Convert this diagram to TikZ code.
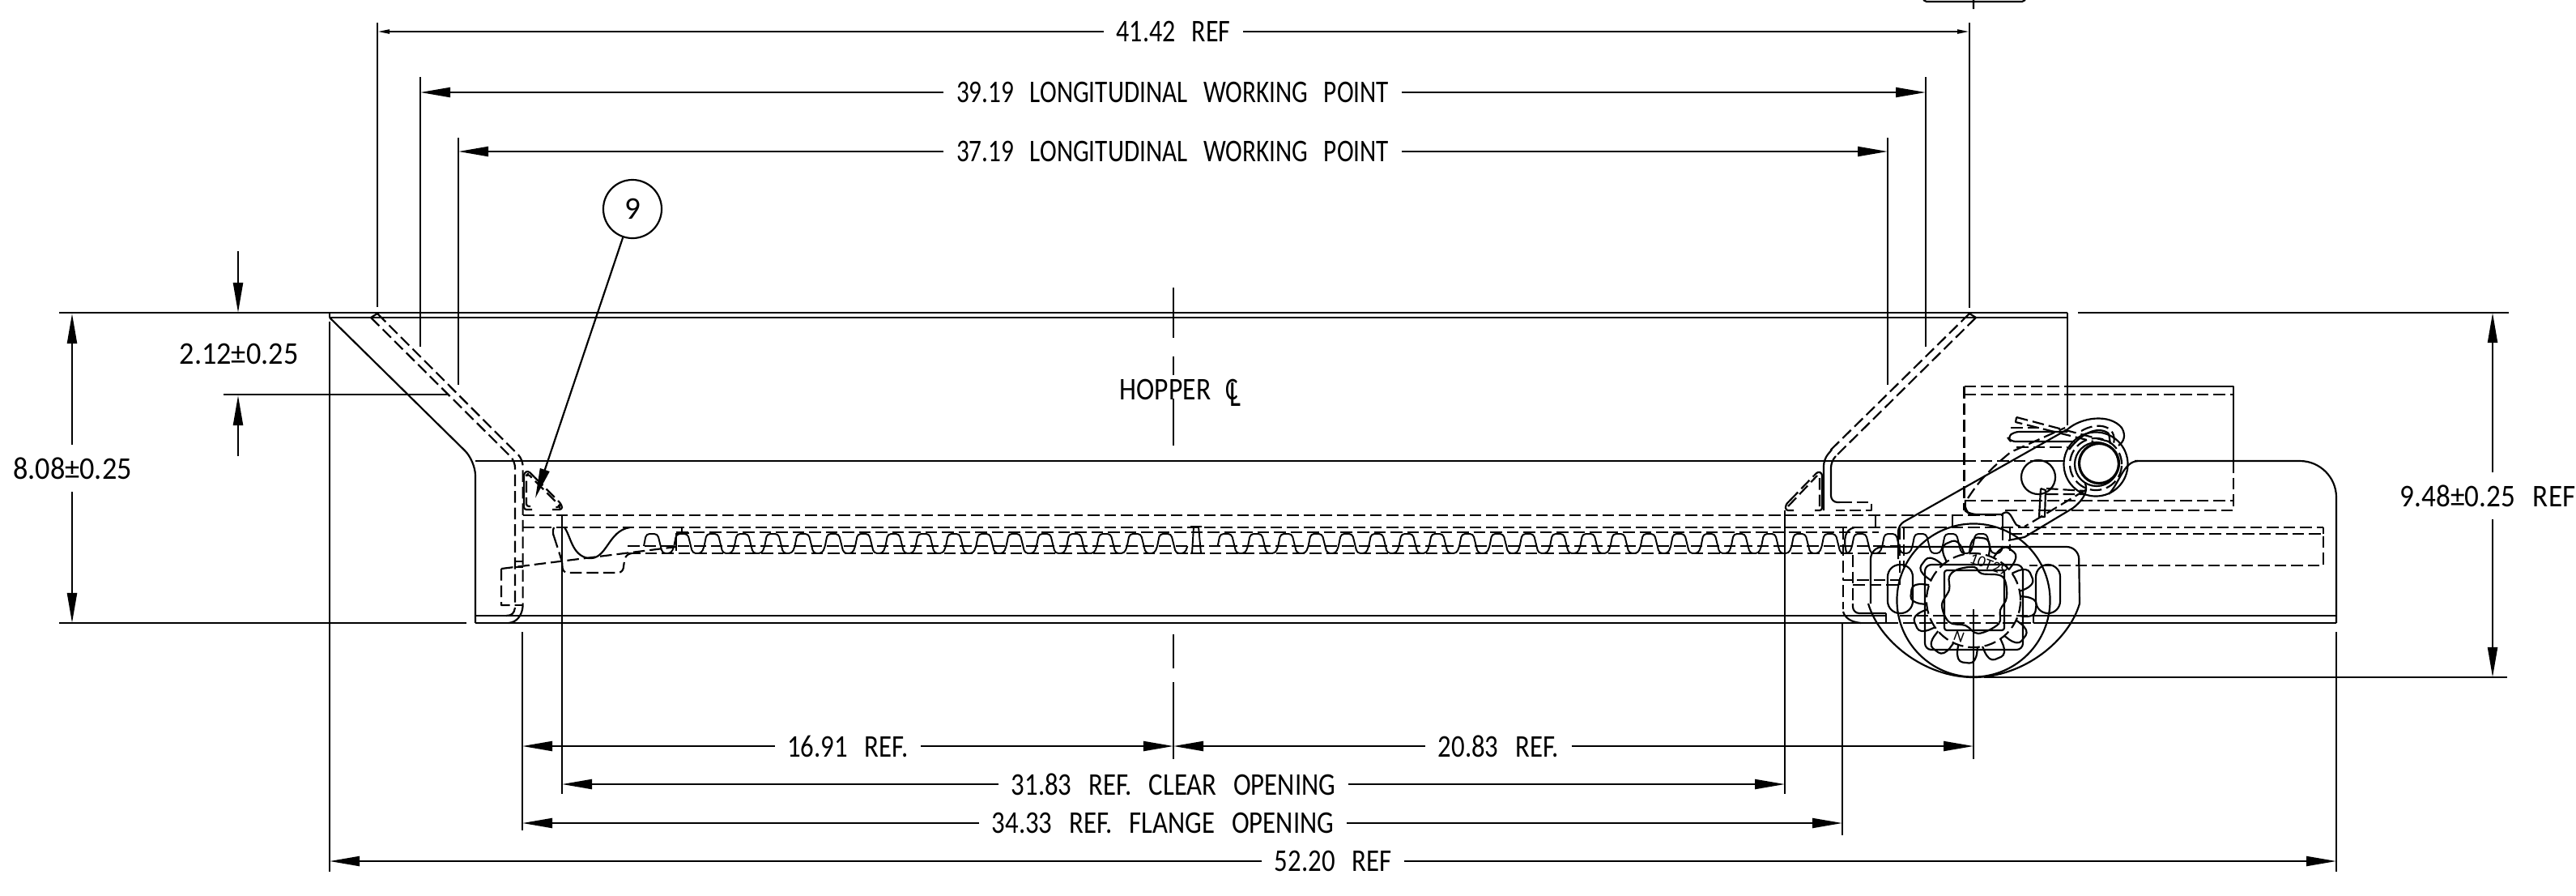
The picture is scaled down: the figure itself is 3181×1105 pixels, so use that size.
\documentclass[tikz,border=0pt]{standalone}
\usepackage{fontspec}
\usepackage{graphicx}
\setmainfont{Carlito}
\usetikzlibrary{arrows.meta}
\newcommand\GP[2]{({2437+#1*cos(\a+#2)},{741-#1*sin(\a+#2)})}
\newcommand\DT[2]{\scalebox{#1}[1]{\spaceskip=0.63em\relax #2}}
\tikzset{
  ln/.style={draw=black,line width=0.62pt},
  dsh/.style={draw=black,line width=0.62pt,dash pattern=on 0.145cm off 0.06cm},
  thn/.style={draw=black,line width=0.55pt},
  arr/.style={draw=black,line width=0.62pt,-{Triangle[length=0.37cm,width=0.12cm]}},
  sarr/.style={draw=black,line width=0.62pt,-{Triangle[length=0.15cm,width=0.05cm]}},
  txt/.style={inner xsep=0.15cm,inner ysep=0pt,font=\fontsize{11.1pt}{12pt}\selectfont},
}
\begin{document}
\begin{tikzpicture}[x=0.01cm,y=-0.01cm,line join=round]
\useasboundingbox (0,0) rectangle (3181,1105);
% ---------- named dimension ends
\foreach \n/\x/\y in {d1l/466/39,d1r/2432/39,d2l/519/114,d2r/2378/114,d3l/566/187,d3r/2331/187,
  d4l/645/921,d4r/1449/921,d5l/1449/921,d5r/2437/921,d6l/694/968,d6r/2204/968,d7l/645/1016,d7r/2275/1016,d8l/407/1063,d8r/2885/1063,
  v1t/89/387,v1a/89/549,v1b/89/607,v1e/89/769,v2t/294/310,v2e/294/386,v2b/294/563,v2f/294/488,
  v3t/3078/386,v3a/3078/583,v3b/3078/641,v3e/3078/836,lead/661/615}
  {\coordinate (\n) at (\x,\y);}
% ---------- texts
\node[txt] (t1) at (1449,39) {\DT{0.82}{41.42 REF}};
\node[txt] (t2) at (1448,114) {\DT{0.80}{39.19 LONGITUDINAL WORKING POINT}};
\node[txt] (t3) at (1448,187) {\DT{0.80}{37.19 LONGITUDINAL WORKING POINT}};
\node[txt] (t4) at (1047,921) {\DT{0.84}{16.91 REF.}};
\node[txt] (t5) at (1850.5,921) {\DT{0.84}{20.83 REF.}};
\node[txt] (t6) at (1449,968) {\DT{0.84}{31.83 REF. CLEAR OPENING}};
\node[txt] (t7) at (1436,1016) {\DT{0.84}{34.33 REF. FLANGE OPENING}};
\node[txt] (t8) at (1646,1063) {\DT{0.84}{52.20 REF}};
\node[txt] (t9) at (89.5,578) {\DT{0.93}{8.08±0.25}};
\node[txt] (t10) at (295,437) {\DT{0.93}{2.12±0.25}};
\node[txt] (t11) at (3072,612) {\DT{0.9}{9.48±0.25 REF}};
\node[txt,anchor=base] (t12) at (1439,493) {\DT{0.86}{HOPPER}};
\node[txt,inner xsep=0pt,anchor=base west] (t13) at (1513,493) {\rlap{\DT{0.75}{C}}\hspace{1.4pt}\raisebox{-2.5pt}{\scalebox{0.85}[1.15]{L}}};
\node[draw=black,line width=0.62pt,circle,minimum size=0.72cm,inner sep=0pt,font=\fontsize{11.1pt}{12pt}\selectfont] (b9) at (781,258) {9};
% ---------- dimension arrows
\draw[sarr] (t1)--(d1l); \draw[sarr] (t1)--(d1r);
\draw[arr] (t2)--(d2l); \draw[arr] (t2)--(d2r);
\draw[arr] (t3)--(d3l); \draw[arr] (t3)--(d3r);
\draw[arr] (t4)--(d4l); \draw[arr] (t4)--(d4r);
\draw[arr] (t5)--(d5l); \draw[arr] (t5)--(d5r);
\draw[arr] (t6)--(d6l); \draw[arr] (t6)--(d6r);
\draw[arr] (t7)--(d7l); \draw[arr] (t7)--(d7r);
\draw[arr] (t8)--(d8l); \draw[arr] (t8)--(d8r);
\draw[arr] (v1a)--(v1t); \draw[arr] (v1b)--(v1e);
\draw[arr] (v2t)--(v2e); \draw[arr] (v2b)--(v2f);
\draw[arr] (v3a)--(v3t); \draw[arr] (v3b)--(v3e);
\draw[arr] (b9)--(lead);
% ---------- extension lines
\draw[ln] (466,28)--(466,379) (519,95)--(519,428) (566,170)--(566,475);
\draw[ln] (2432,28)--(2432,380) (2378,95)--(2378,428) (2331,170)--(2331,475);
\draw[ln] (73,386)--(407,386) (276,487)--(554,487) (73,769)--(576,769);
\draw[ln] (407,397)--(407,1076) (2885,780)--(2885,1076);
\draw[ln] (645,780)--(645,1025) (694,636)--(694,980) (2204,630)--(2204,980) (2275,769)--(2275,1031) (2437,752)--(2437,937);
\draw[ln] (2566,386)--(3098,386) (2450,836)--(3096,836);
\draw[ln] (1449,355)--(1449,417) (1449,440)--(1449,463) (1449,492)--(1449,550) (1449,783)--(1449,825) (1449,842)--(1449,937);
% ---------- top-right stub
\draw[ln] (2375,0)--(2379,2)--(2497,2)--(2501,0) (2437,0)--(2437,11);
% ---------- hopper body
\draw[ln] (407,386)--(2553,386) (407,392)--(2553,392) (407,386)--(407,392) (2553,386)--(2553,525);
\draw[ln,rounded corners=0.18cm] (407,392)--(587,569)--(587,769);
\draw[ln] (587,569)--(2425,569);
\draw[dsh] (2425,569)--(2520,569);
\draw[ln] (2520,569)--(2550,569);
\draw[ln] (587,760)--(2329,760) (587,769)--(2329,769) (2329,757)--(2329,769);
\draw[dsh] (2329,769)--(2511,769) (2346,760)--(2511,760);
\draw[ln] (2511,760)--(2885,760) (2511,769)--(2885,769) (2511,760)--(2511,769);
\draw[ln,rounded corners=0.45cm] (2636,569)--(2885,569)--(2885,769);
\draw[ln] (2604,610) .. controls (2618,595) and (2622,570) .. (2640,569);
% ---------- left sloped liner
\draw[dsh] (458,392)--(466,387);
\draw[dsh,rounded corners=0.08cm] (458,392)--(636,569)--(636,748);
\draw[dsh,rounded corners=0.08cm] (466,387)--(645.6,567)--(645.6,748);
\draw[ln] (636,693)--(645.6,693) (636,700)--(645.6,700) (636,747)--(645.6,747);
\draw[dsh] (619,702)--(835,675) (619,702)--(619,747)--(636,747);
\draw[ln] (645.6,748) .. controls (645,757) and (640,768) .. (628,769);
\draw[ln] (636,750) .. controls (635,757) and (632,760) .. (625,760);
% ---------- left clip
\draw[ln,rounded corners=0.03cm] (657,629)--(647,629)--(647,590);
\draw[ln,rounded corners=0.03cm] (647,590)--(647,584)--(652,581)--(660,589);
\draw[dsh] (660,589)--(690,619);
\draw[ln,rounded corners=0.03cm] (690,619)--(694,624)--(694,629)--(682,629);
\draw[dsh,rounded corners=0.03cm] (655,625)--(650,625)--(650,587)--(652,585)--(691,624)--(691,626)--(683,626);
% ---------- rack lines
\draw[dsh] (645.6,636)--(2474,636);
\draw[dsh] (645.6,651)--(2869,651);
\draw[dsh] (835,657)--(2320,657) (775,674)--(2345,674) (776,683)--(2330,683);
\draw[ln] (842,651)--(842,657) (835,658)--(851,658) (835,658)--(835,680);
% left rack end detail
\draw[ln] (684,651) .. controls (682,655) and (683,660) .. (684,662);
\draw[dsh] (684,662)--(694,693);
\draw[ln] (697,651) .. controls (705,662) and (706,685) .. (726,689) .. controls (750,692) and (750,655) .. (778,651);
\draw[dsh,rounded corners=0.06cm] (694,693)--(695,707)--(769,707)--(772,685)--(780,683);
% teeth
\foreach \k in {0,...,44}{%
  \ifnum\k=18\relax\else
  \pgfmathsetmacro\c{805+37.3*\k}%
  \draw[thn,rounded corners=0.04cm] ({\c-10},674)--({\c-7},659)--({\c+7},659)--({\c+13},683)--({\c+24},683)--({\c+27.3},674);
  \fi}
% centre mark on rack
\draw[thn] (1470,650)--(1484,650) (1470,683)--(1484,683) (1474,650)--(1472,683) (1480,650)--(1483,683);
% ---------- right sloped liner and foot
\draw[dsh] (2432,387)--(2440,392);
\draw[dsh] (2432,387)--(2257,559);
\draw[dsh] (2440,392)--(2266,564);
\draw[ln,rounded corners=0.08cm] (2262,555)--(2252,567)--(2252,630);
\draw[ln,rounded corners=0.08cm] (2266,564)--(2261,569)--(2261,620)--(2272,620);
\draw[dsh] (2272,620)--(2311,620)--(2311,630)--(2267,630);
\draw[ln,rounded corners=0.03cm] (2215,630)--(2205,630)--(2205,623)--(2210,618);
\draw[dsh] (2210,618)--(2240,587);
\draw[ln,rounded corners=0.03cm] (2240,587)--(2245,582)--(2250,584)--(2250,630)--(2241,630);
\draw[dsh] (2208,625)--(2244,587) (2247,590)--(2247,627);
% ---------- right housing (dashed box with solid top)
\draw[dsh] (2425.5,477)--(2553,477);
\draw[ln] (2553,477)--(2758,477)--(2758,569);
\draw[dsh] (2425.5,487)--(2758,487) (2425.5,477)--(2425.5,630) (2758,569)--(2758,630)--(2473,630) (2425.5,618)--(2758,618);
% ---------- arm
\draw[ln,rounded corners=0.08cm] (2344,690)--(2344,648)--(2553,530);
\draw[ln] (2553,530) .. controls (2570,515) and (2605,510) .. (2620,528) .. controls (2626,538) and (2622,546) .. (2616,550);
\draw[ln] (2575,597) .. controls (2578,605) and (2575,615) .. (2560,627)--(2500,663)--(2480,667);
\draw[dsh] (2575,605)--(2500,650);
\draw[dsh] (2430,615) .. controls (2440,600) and (2450,585) .. (2483,558)--(2550,528);
\draw[ln,rounded corners=0.08cm] (2427,617)--(2426,630)--(2433,635)--(2473,635);
\draw[ln] (2473,633)--(2473,667);
\draw[ln] (2473,634) .. controls (2482,628) and (2484,640) .. (2490,648) (2490,648)--(2495,650);
\draw[dsh] (2482,651)--(2482,680);
% pin
\draw[ln,line width=0.9pt] (2592,572) circle[radius=0.245cm];
\draw[ln] (2589,573) circle[radius=0.27cm];
\draw[ln] (2588,573) circle[radius=0.395cm];
\draw[dsh] (2588,573) circle[radius=0.32cm];
\draw[ln] (2517,589) circle[radius=0.21cm];
% spring
\draw[ln,rounded corners=0.06cm] (2553,533)--(2487,533)--(2479,540)--(2483,545)--(2562,545);
\draw[dsh] (2483,528)--(2520,528) (2490,552)--(2553,552);
\draw[dsh] (2490,515)--(2604,545) (2490,515)--(2489,521)--(2585,545);
\draw[dsh] (2570,532) .. controls (2590,520) and (2615,525) .. (2610,548);
\draw[ln] (2555,555) .. controls (2570,535) and (2590,525) .. (2604,535) (2604,535)--(2606,548);
\draw[ln] (2520,603)--(2518,638)--(2525,638)--(2526,605)--(2520,603);
\draw[dsh] (2527,603)--(2575,606) (2527,610)--(2575,610);
% ---------- long dashed box on the right
\draw[dsh] (2482,659)--(2869,659)--(2869,698)--(2506,698) (2869,651)--(2869,659);
\draw[dsh] (2316,636)--(2316,651) (2411,636)--(2411,651);
\draw[dsh] (2346,651)--(2346,722) (2351,651)--(2351,700);
% left edge of the gear housing
\draw[ln] (2280,682) .. controls (2276,665) and (2278,654) .. (2290,651);
\draw[dsh] (2276,651)--(2276,716)--(2346,716) (2288,685)--(2288,750) (2288,722)--(2346,722);
\draw[dsh] (2276,722)--(2276,752);
\draw[ln,rounded corners=0.08cm] (2288,745)--(2288,757)--(2329,757);
\draw[ln] (2276,755) .. controls (2278,762) and (2285,768) .. (2298,769);
% ---------- hub
\draw[ln,rounded corners=0.15cm] (2310,745)--(2310,675)--(2567,675)--(2568,745);
\draw[ln] (2568,745) .. controls (2555,790) and (2500,836) .. (2437,836) .. controls (2375,836) and (2320,790) .. (2307,745);
\draw[ln] (2437,741) circle[radius=0.945cm];
\draw[ln,rounded corners=0.15cm] (2331,697) rectangle (2362,757);
\draw[ln,rounded corners=0.15cm] (2514,697) rectangle (2544,757);
\draw[ln,rounded corners=0.08cm] (2377,697)--(2377,802)--(2498,802)--(2498,697)--cycle;
\draw[ln,rounded corners=0.03cm] (2401,704) rectangle (2475,778);
\draw[dsh] (2437,741) circle[radius=0.58cm];
\foreach \a in {23,53,...,353}{
  \draw[ln,rounded corners=0.04cm] \GP{58}{-12}--\GP{70}{-10}--\GP{78}{-6}--\GP{78}{6}--\GP{70}{10}--\GP{58}{12};
}
\draw[ln] plot[smooth cycle,tension=0.6] coordinates {(2438,700)(2447,708)(2473,712)(2478,737)(2470,753)(2468,770)(2443,782)(2427,772)(2407,768)(2398,747)(2407,728)(2407,712)(2417,703)};
\node[font=\fontsize{5.5pt}{6pt}\selectfont,inner sep=0pt,rotate=-20] (g1) at (2456,697) {10T29};
\node[font=\fontsize{5.5pt}{6pt}\selectfont,inner sep=0pt,rotate=-20] (g2) at (2419,786) {N};
\end{tikzpicture}
\end{document}
